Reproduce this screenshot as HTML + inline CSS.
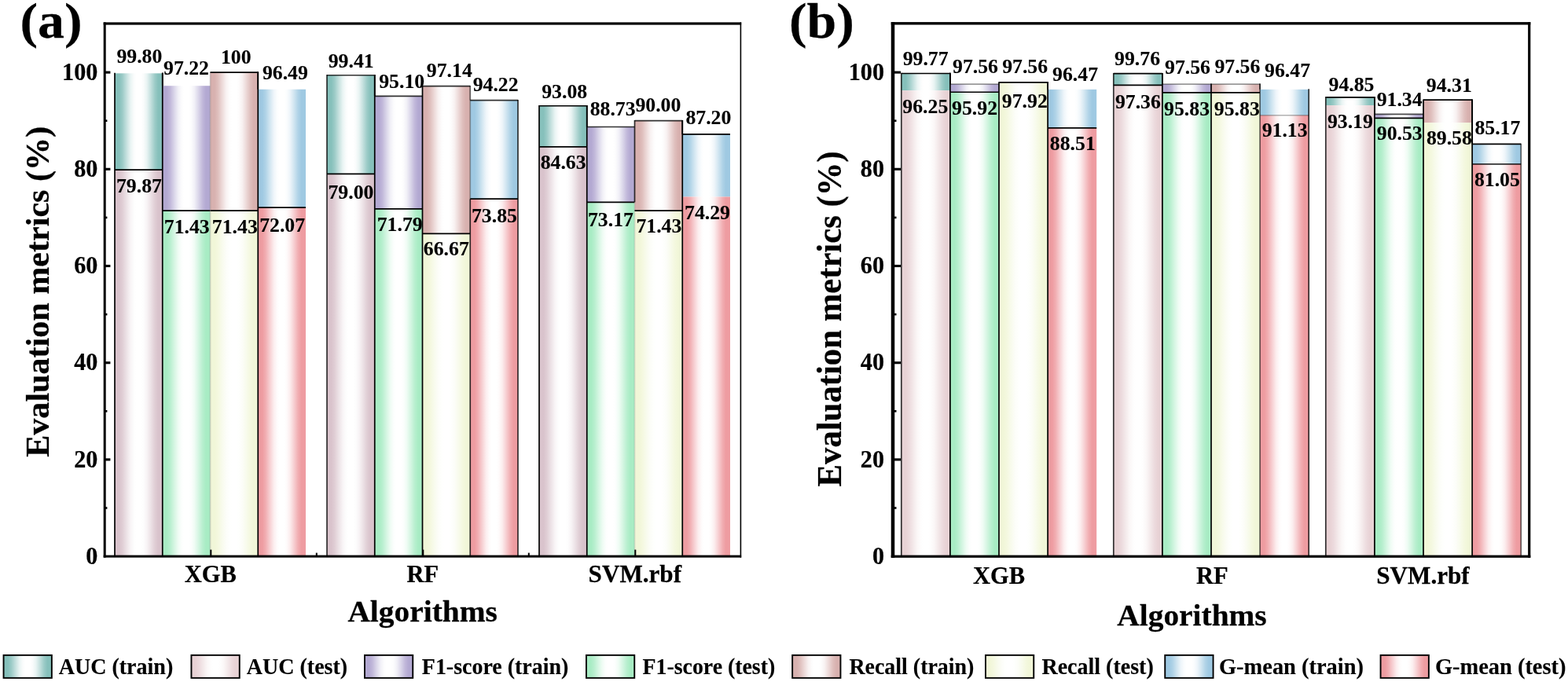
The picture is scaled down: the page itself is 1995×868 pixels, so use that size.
<!DOCTYPE html>
<html lang="en"><head><meta charset="utf-8"><title>Evaluation metrics of algorithms</title>
<style>
html,body{margin:0;padding:0;background:#fff;}
body{width:1995px;height:868px;overflow:hidden;}
svg{display:block;}
text{font-family:"Liberation Serif",serif;font-weight:bold;fill:#000;stroke:#000;stroke-width:0.25px;}
.tk{font-size:31.6px;}
.dl{font-size:25px;stroke-width:0.1px;}
.ax{font-size:37.6px;}
.ay{font-size:42.6px;}
.pl{font-size:64px;}
.lg{font-size:29.2px;stroke-width:0.15px;}
</style></head><body>
<svg width="1995" height="868" viewBox="0 0 1995 868">
<defs>
<linearGradient id="g_auc_tr" x1="0" y1="0" x2="1" y2="0"><stop offset="0.00" stop-color="#86c0bb"/><stop offset="0.09" stop-color="#86c0bb"/><stop offset="0.16" stop-color="#9ccbc7"/><stop offset="0.25" stop-color="#c6e1df"/><stop offset="0.33" stop-color="#e9f4f3"/><stop offset="0.40" stop-color="#fafcfc"/><stop offset="0.45" stop-color="#ffffff"/><stop offset="0.55" stop-color="#ffffff"/><stop offset="0.60" stop-color="#fafcfc"/><stop offset="0.67" stop-color="#e9f4f3"/><stop offset="0.75" stop-color="#c6e1df"/><stop offset="0.84" stop-color="#9ccbc7"/><stop offset="0.91" stop-color="#86c0bb"/><stop offset="1.00" stop-color="#86c0bb"/></linearGradient>
<linearGradient id="g_auc_te_a" x1="0" y1="0" x2="1" y2="0"><stop offset="0.00" stop-color="#d9c3cc"/><stop offset="0.09" stop-color="#d9c3cc"/><stop offset="0.16" stop-color="#e0ced5"/><stop offset="0.25" stop-color="#ede3e7"/><stop offset="0.33" stop-color="#f8f4f6"/><stop offset="0.40" stop-color="#fdfdfd"/><stop offset="0.45" stop-color="#ffffff"/><stop offset="0.55" stop-color="#ffffff"/><stop offset="0.60" stop-color="#fdfdfd"/><stop offset="0.67" stop-color="#f8f4f6"/><stop offset="0.75" stop-color="#ede3e7"/><stop offset="0.84" stop-color="#e0ced5"/><stop offset="0.91" stop-color="#d9c3cc"/><stop offset="1.00" stop-color="#d9c3cc"/></linearGradient>
<linearGradient id="g_auc_te_b" x1="0" y1="0" x2="1" y2="0"><stop offset="0.00" stop-color="#e8d2d5"/><stop offset="0.09" stop-color="#e8d2d5"/><stop offset="0.16" stop-color="#ecdadd"/><stop offset="0.25" stop-color="#f4eaeb"/><stop offset="0.33" stop-color="#fbf7f7"/><stop offset="0.40" stop-color="#fefdfd"/><stop offset="0.45" stop-color="#ffffff"/><stop offset="0.55" stop-color="#ffffff"/><stop offset="0.60" stop-color="#fefdfd"/><stop offset="0.67" stop-color="#fbf7f7"/><stop offset="0.75" stop-color="#f4eaeb"/><stop offset="0.84" stop-color="#ecdadd"/><stop offset="0.91" stop-color="#e8d2d5"/><stop offset="1.00" stop-color="#e8d2d5"/></linearGradient>
<linearGradient id="g_f1_tr" x1="0" y1="0" x2="1" y2="0"><stop offset="0.00" stop-color="#b3a9d2"/><stop offset="0.09" stop-color="#b3a9d2"/><stop offset="0.16" stop-color="#c1b8da"/><stop offset="0.25" stop-color="#dbd7ea"/><stop offset="0.33" stop-color="#f1f0f7"/><stop offset="0.40" stop-color="#fcfcfd"/><stop offset="0.45" stop-color="#ffffff"/><stop offset="0.55" stop-color="#ffffff"/><stop offset="0.60" stop-color="#fcfcfd"/><stop offset="0.67" stop-color="#f1f0f7"/><stop offset="0.75" stop-color="#dbd7ea"/><stop offset="0.84" stop-color="#c1b8da"/><stop offset="0.91" stop-color="#b3a9d2"/><stop offset="1.00" stop-color="#b3a9d2"/></linearGradient>
<linearGradient id="g_f1_te" x1="0" y1="0" x2="1" y2="0"><stop offset="0.00" stop-color="#a8ecc4"/><stop offset="0.09" stop-color="#a8ecc4"/><stop offset="0.16" stop-color="#b8efcf"/><stop offset="0.25" stop-color="#d6f6e3"/><stop offset="0.33" stop-color="#effcf4"/><stop offset="0.40" stop-color="#fcfefd"/><stop offset="0.45" stop-color="#ffffff"/><stop offset="0.55" stop-color="#ffffff"/><stop offset="0.60" stop-color="#fcfefd"/><stop offset="0.67" stop-color="#effcf4"/><stop offset="0.75" stop-color="#d6f6e3"/><stop offset="0.84" stop-color="#b8efcf"/><stop offset="0.91" stop-color="#a8ecc4"/><stop offset="1.00" stop-color="#a8ecc4"/></linearGradient>
<linearGradient id="g_rec_tr" x1="0" y1="0" x2="1" y2="0"><stop offset="0.00" stop-color="#d8b1af"/><stop offset="0.09" stop-color="#d8b1af"/><stop offset="0.16" stop-color="#dfbfbd"/><stop offset="0.25" stop-color="#eddad9"/><stop offset="0.33" stop-color="#f8f1f1"/><stop offset="0.40" stop-color="#fdfcfc"/><stop offset="0.45" stop-color="#ffffff"/><stop offset="0.55" stop-color="#ffffff"/><stop offset="0.60" stop-color="#fdfcfc"/><stop offset="0.67" stop-color="#f8f1f1"/><stop offset="0.75" stop-color="#eddad9"/><stop offset="0.84" stop-color="#dfbfbd"/><stop offset="0.91" stop-color="#d8b1af"/><stop offset="1.00" stop-color="#d8b1af"/></linearGradient>
<linearGradient id="g_rec_te" x1="0" y1="0" x2="1" y2="0"><stop offset="0.00" stop-color="#f1f6d8"/><stop offset="0.09" stop-color="#f1f6d8"/><stop offset="0.16" stop-color="#f4f8df"/><stop offset="0.25" stop-color="#f8fbed"/><stop offset="0.33" stop-color="#fcfdf8"/><stop offset="0.40" stop-color="#fefffd"/><stop offset="0.45" stop-color="#ffffff"/><stop offset="0.55" stop-color="#ffffff"/><stop offset="0.60" stop-color="#fefffd"/><stop offset="0.67" stop-color="#fcfdf8"/><stop offset="0.75" stop-color="#f8fbed"/><stop offset="0.84" stop-color="#f4f8df"/><stop offset="0.91" stop-color="#f1f6d8"/><stop offset="1.00" stop-color="#f1f6d8"/></linearGradient>
<linearGradient id="g_gm_tr" x1="0" y1="0" x2="1" y2="0"><stop offset="0.00" stop-color="#9fc9e2"/><stop offset="0.09" stop-color="#9fc9e2"/><stop offset="0.16" stop-color="#b0d3e7"/><stop offset="0.25" stop-color="#d2e6f1"/><stop offset="0.33" stop-color="#eef5fa"/><stop offset="0.40" stop-color="#fbfdfe"/><stop offset="0.45" stop-color="#ffffff"/><stop offset="0.55" stop-color="#ffffff"/><stop offset="0.60" stop-color="#fbfdfe"/><stop offset="0.67" stop-color="#eef5fa"/><stop offset="0.75" stop-color="#d2e6f1"/><stop offset="0.84" stop-color="#b0d3e7"/><stop offset="0.91" stop-color="#9fc9e2"/><stop offset="1.00" stop-color="#9fc9e2"/></linearGradient>
<linearGradient id="g_gm_te" x1="0" y1="0" x2="1" y2="0"><stop offset="0.00" stop-color="#ee9ca1"/><stop offset="0.09" stop-color="#ee9ca1"/><stop offset="0.16" stop-color="#f1aeb2"/><stop offset="0.25" stop-color="#f7d0d3"/><stop offset="0.33" stop-color="#fcedee"/><stop offset="0.40" stop-color="#fefbfb"/><stop offset="0.45" stop-color="#ffffff"/><stop offset="0.55" stop-color="#ffffff"/><stop offset="0.60" stop-color="#fefbfb"/><stop offset="0.67" stop-color="#fcedee"/><stop offset="0.75" stop-color="#f7d0d3"/><stop offset="0.84" stop-color="#f1aeb2"/><stop offset="0.91" stop-color="#ee9ca1"/><stop offset="1.00" stop-color="#ee9ca1"/></linearGradient>
</defs>
<rect x="0" y="0" width="1995" height="868" fill="#ffffff"/>
<g id="panel-a">
<rect x="146.00" y="93.33" width="60.75" height="122.77" fill="url(#g_auc_tr)"/>
<rect x="146.00" y="216.10" width="60.75" height="492.00" fill="url(#g_auc_te_a)"/>
<line x1="146.00" y1="216.10" x2="206.75" y2="216.10" stroke="#000" stroke-width="1.70" stroke-opacity="1.00"/>
<line x1="146.00" y1="92.63" x2="146.00" y2="708.10" stroke="#000" stroke-width="1.70" stroke-opacity="1.00"/>
<text class="dl" transform="translate(177.35,80.10) scale(1.030,1)" text-anchor="middle">99.80</text>
<text class="dl" transform="translate(176.95,244.90) scale(1.030,1)" text-anchor="middle">79.87</text>
<rect x="416.00" y="95.73" width="60.75" height="125.73" fill="url(#g_auc_tr)"/>
<rect x="416.00" y="221.46" width="60.75" height="486.64" fill="url(#g_auc_te_a)"/>
<line x1="416.00" y1="95.73" x2="476.75" y2="95.73" stroke="#000" stroke-width="1.70" stroke-opacity="0.80"/>
<line x1="416.00" y1="221.46" x2="476.75" y2="221.46" stroke="#000" stroke-width="1.70" stroke-opacity="1.00"/>
<line x1="416.00" y1="95.03" x2="416.00" y2="708.10" stroke="#000" stroke-width="1.70" stroke-opacity="0.80"/>
<text class="dl" transform="translate(446.70,86.40) scale(1.030,1)" text-anchor="middle">99.41</text>
<text class="dl" transform="translate(446.45,253.00) scale(1.030,1)" text-anchor="middle">79.00</text>
<rect x="686.00" y="134.73" width="60.75" height="52.05" fill="url(#g_auc_tr)"/>
<rect x="686.00" y="186.78" width="60.75" height="521.32" fill="url(#g_auc_te_a)"/>
<line x1="686.00" y1="134.73" x2="746.75" y2="134.73" stroke="#000" stroke-width="1.70" stroke-opacity="1.00"/>
<line x1="686.00" y1="186.78" x2="746.75" y2="186.78" stroke="#000" stroke-width="1.70" stroke-opacity="1.00"/>
<line x1="686.00" y1="134.03" x2="686.00" y2="708.10" stroke="#000" stroke-width="1.70" stroke-opacity="1.00"/>
<text class="dl" transform="translate(718.20,124.50) scale(1.030,1)" text-anchor="middle">93.08</text>
<text class="dl" transform="translate(716.60,215.10) scale(1.030,1)" text-anchor="middle">84.63</text>
<rect x="206.75" y="109.22" width="60.75" height="158.87" fill="url(#g_f1_tr)"/>
<rect x="206.75" y="268.09" width="60.75" height="440.01" fill="url(#g_f1_te)"/>
<line x1="206.75" y1="268.09" x2="267.50" y2="268.09" stroke="#000" stroke-width="1.70" stroke-opacity="1.00"/>
<line x1="206.75" y1="92.63" x2="206.75" y2="708.10" stroke="#000" stroke-width="1.70" stroke-opacity="1.00"/>
<text class="dl" transform="translate(237.00,95.30) scale(1.030,1)" text-anchor="middle">97.22</text>
<text class="dl" transform="translate(237.75,296.70) scale(1.030,1)" text-anchor="middle">71.43</text>
<rect x="476.75" y="122.28" width="60.75" height="143.59" fill="url(#g_f1_tr)"/>
<rect x="476.75" y="265.87" width="60.75" height="442.23" fill="url(#g_f1_te)"/>
<line x1="476.75" y1="122.28" x2="537.50" y2="122.28" stroke="#000" stroke-width="1.70" stroke-opacity="0.80"/>
<line x1="476.75" y1="265.87" x2="537.50" y2="265.87" stroke="#000" stroke-width="1.70" stroke-opacity="1.00"/>
<line x1="476.75" y1="95.03" x2="476.75" y2="708.10" stroke="#000" stroke-width="1.70" stroke-opacity="1.00"/>
<text class="dl" transform="translate(511.20,112.20) scale(1.030,1)" text-anchor="middle">95.10</text>
<text class="dl" transform="translate(508.70,294.00) scale(1.030,1)" text-anchor="middle">71.79</text>
<rect x="746.75" y="161.52" width="60.75" height="95.85" fill="url(#g_f1_tr)"/>
<rect x="746.75" y="257.37" width="60.75" height="450.73" fill="url(#g_f1_te)"/>
<line x1="746.75" y1="161.52" x2="807.50" y2="161.52" stroke="#000" stroke-width="1.70" stroke-opacity="0.80"/>
<line x1="746.75" y1="257.37" x2="807.50" y2="257.37" stroke="#000" stroke-width="1.70" stroke-opacity="1.00"/>
<line x1="746.75" y1="134.03" x2="746.75" y2="708.10" stroke="#000" stroke-width="1.70" stroke-opacity="1.00"/>
<text class="dl" transform="translate(779.60,147.10) scale(1.030,1)" text-anchor="middle">88.73</text>
<text class="dl" transform="translate(776.95,287.90) scale(1.030,1)" text-anchor="middle">73.17</text>
<rect x="267.50" y="92.10" width="60.75" height="175.99" fill="url(#g_rec_tr)"/>
<rect x="267.50" y="268.09" width="60.75" height="440.01" fill="url(#g_rec_te)"/>
<line x1="267.50" y1="92.10" x2="328.25" y2="92.10" stroke="#000" stroke-width="1.70" stroke-opacity="1.00"/>
<line x1="267.50" y1="268.09" x2="328.25" y2="268.09" stroke="#000" stroke-width="1.70" stroke-opacity="1.00"/>
<line x1="267.50" y1="91.40" x2="267.50" y2="708.10" stroke="#000" stroke-width="1.70" stroke-opacity="0.15"/>
<text class="dl" transform="translate(300.30,81.00) scale(1.030,1)" text-anchor="middle">100</text>
<text class="dl" transform="translate(298.80,296.70) scale(1.030,1)" text-anchor="middle">71.43</text>
<rect x="537.50" y="109.72" width="60.75" height="187.70" fill="url(#g_rec_tr)"/>
<rect x="537.50" y="297.41" width="60.75" height="410.69" fill="url(#g_rec_te)"/>
<line x1="537.50" y1="109.72" x2="598.25" y2="109.72" stroke="#000" stroke-width="1.70" stroke-opacity="0.80"/>
<line x1="537.50" y1="297.41" x2="598.25" y2="297.41" stroke="#000" stroke-width="1.70" stroke-opacity="1.00"/>
<line x1="537.50" y1="109.02" x2="537.50" y2="708.10" stroke="#000" stroke-width="1.70" stroke-opacity="1.00"/>
<text class="dl" transform="translate(571.80,98.30) scale(1.030,1)" text-anchor="middle">97.14</text>
<text class="dl" transform="translate(567.80,325.10) scale(1.030,1)" text-anchor="middle">66.67</text>
<rect x="807.50" y="153.70" width="60.75" height="114.39" fill="url(#g_rec_tr)"/>
<rect x="807.50" y="268.09" width="60.75" height="440.01" fill="url(#g_rec_te)"/>
<line x1="807.50" y1="153.70" x2="868.25" y2="153.70" stroke="#000" stroke-width="1.70" stroke-opacity="0.80"/>
<line x1="807.50" y1="268.09" x2="868.25" y2="268.09" stroke="#000" stroke-width="1.70" stroke-opacity="1.00"/>
<line x1="807.50" y1="257.37" x2="807.50" y2="708.10" stroke="#000" stroke-width="1.70" stroke-opacity="0.12"/>
<line x1="807.50" y1="153.00" x2="807.50" y2="257.37" stroke="#000" stroke-width="1.70" stroke-opacity="0.80"/>
<text class="dl" transform="translate(837.40,142.00) scale(1.030,1)" text-anchor="middle">90.00</text>
<text class="dl" transform="translate(838.35,296.20) scale(1.030,1)" text-anchor="middle">71.43</text>
<rect x="328.25" y="113.72" width="60.75" height="150.43" fill="url(#g_gm_tr)"/>
<rect x="328.25" y="264.15" width="60.75" height="443.95" fill="url(#g_gm_te)"/>
<line x1="328.25" y1="264.15" x2="389.00" y2="264.15" stroke="#000" stroke-width="1.70" stroke-opacity="1.00"/>
<line x1="328.25" y1="91.40" x2="328.25" y2="708.10" stroke="#000" stroke-width="1.70" stroke-opacity="1.00"/>
<text class="dl" transform="translate(362.85,100.50) scale(1.030,1)" text-anchor="middle">96.49</text>
<text class="dl" transform="translate(359.10,295.10) scale(1.030,1)" text-anchor="middle">72.07</text>
<rect x="598.25" y="127.70" width="60.75" height="125.48" fill="url(#g_gm_tr)"/>
<rect x="598.25" y="253.18" width="60.75" height="454.92" fill="url(#g_gm_te)"/>
<line x1="598.25" y1="127.70" x2="659.00" y2="127.70" stroke="#000" stroke-width="1.70" stroke-opacity="0.80"/>
<line x1="598.25" y1="253.18" x2="659.00" y2="253.18" stroke="#000" stroke-width="1.70" stroke-opacity="1.00"/>
<line x1="598.25" y1="253.18" x2="598.25" y2="708.10" stroke="#000" stroke-width="1.70" stroke-opacity="0.80"/>
<line x1="598.25" y1="109.02" x2="598.25" y2="253.18" stroke="#000" stroke-width="1.70" stroke-opacity="0.35"/>
<line x1="659.00" y1="127.00" x2="659.00" y2="708.10" stroke="#000" stroke-width="1.70" stroke-opacity="0.80"/>
<text class="dl" transform="translate(630.60,116.30) scale(1.030,1)" text-anchor="middle">94.22</text>
<text class="dl" transform="translate(628.95,282.50) scale(1.030,1)" text-anchor="middle">73.85</text>
<rect x="868.25" y="170.95" width="60.75" height="79.53" fill="url(#g_gm_tr)"/>
<rect x="868.25" y="250.47" width="60.75" height="457.63" fill="url(#g_gm_te)"/>
<line x1="868.25" y1="170.95" x2="929.00" y2="170.95" stroke="#000" stroke-width="1.70" stroke-opacity="1.00"/>
<line x1="868.25" y1="153.00" x2="868.25" y2="708.10" stroke="#000" stroke-width="1.70" stroke-opacity="1.00"/>
<text class="dl" transform="translate(901.40,157.50) scale(1.030,1)" text-anchor="middle">87.20</text>
<text class="dl" transform="translate(900.00,279.40) scale(1.030,1)" text-anchor="middle">74.29</text>
<line x1="206.75" y1="92.63" x2="206.75" y2="109.22" stroke="#000" stroke-width="1.70" stroke-opacity="1.00"/>
<line x1="328.25" y1="91.40" x2="328.25" y2="113.72" stroke="#000" stroke-width="1.70" stroke-opacity="1.00"/>
<line x1="476.75" y1="95.03" x2="476.75" y2="122.28" stroke="#000" stroke-width="1.70" stroke-opacity="1.00"/>
<line x1="598.25" y1="109.02" x2="598.25" y2="127.70" stroke="#000" stroke-width="1.70" stroke-opacity="0.35"/>
<line x1="746.75" y1="134.03" x2="746.75" y2="161.52" stroke="#000" stroke-width="1.70" stroke-opacity="1.00"/>
<line x1="868.25" y1="153.00" x2="868.25" y2="170.95" stroke="#000" stroke-width="1.70" stroke-opacity="1.00"/>
<rect x="131.70" y="28.40" width="3.00" height="681.20" fill="#000"/>
<rect x="941.60" y="28.40" width="1.60" height="681.20" fill="#000"/>
<rect x="131.70" y="28.40" width="811.50" height="3.20" fill="#000"/>
<rect x="131.70" y="706.60" width="811.50" height="3.00" fill="#000"/>
<text class="tk" transform="translate(124.3,717.7) scale(0.955,1)" text-anchor="end">0</text>
<rect x="133.20" y="645.20" width="3.20" height="2.6" fill="#000"/>
<rect x="133.20" y="583.35" width="7.20" height="3.1" fill="#000"/>
<text class="tk" transform="translate(124.3,594.5) scale(0.955,1)" text-anchor="end">20</text>
<rect x="133.20" y="522.00" width="3.20" height="2.6" fill="#000"/>
<rect x="133.20" y="460.15" width="7.20" height="3.1" fill="#000"/>
<text class="tk" transform="translate(124.3,471.3) scale(0.955,1)" text-anchor="end">40</text>
<rect x="133.20" y="398.80" width="3.20" height="2.6" fill="#000"/>
<rect x="133.20" y="336.95" width="7.20" height="3.1" fill="#000"/>
<text class="tk" transform="translate(124.3,348.1) scale(0.955,1)" text-anchor="end">60</text>
<rect x="133.20" y="275.60" width="3.20" height="2.6" fill="#000"/>
<rect x="133.20" y="213.75" width="7.20" height="3.1" fill="#000"/>
<text class="tk" transform="translate(124.3,224.9) scale(0.955,1)" text-anchor="end">80</text>
<rect x="133.20" y="152.40" width="3.20" height="2.6" fill="#000"/>
<rect x="133.20" y="90.55" width="7.20" height="3.1" fill="#000"/>
<text class="tk" transform="translate(124.3,101.7) scale(0.955,1)" text-anchor="end">100</text>
<rect x="267.30" y="699.60" width="2" height="8.50" fill="#000"/>
<rect x="401.80" y="703.60" width="2" height="4.50" fill="#000"/>
<text class="tk" transform="translate(267.8,741.4) scale(0.965,1)" text-anchor="middle">XGB</text>
<rect x="537.30" y="699.60" width="2" height="8.50" fill="#000"/>
<rect x="671.80" y="703.60" width="2" height="4.50" fill="#000"/>
<text class="tk" transform="translate(537.8,741.4) scale(0.965,1)" text-anchor="middle">RF</text>
<rect x="807.30" y="699.60" width="2" height="8.50" fill="#000"/>
<text class="tk" transform="translate(807.8,741.4) scale(0.985,1)" text-anchor="middle">SVM.rbf</text>
<text class="ax" transform="translate(537.6,791.3) scale(1.048,1)" text-anchor="middle">Algorithms</text>
<text class="ay" style="font-size:42.2px" transform="translate(61.8,371.3) rotate(-90) scale(0.998,1)" text-anchor="middle">Evaluation metrics (%)</text>
<text class="pl" transform="translate(25.4,48.4) scale(1.06,1)">(a)</text>
</g>
<g id="panel-b">
<rect x="1146.80" y="93.52" width="62.10" height="21.68" fill="url(#g_auc_tr)"/>
<rect x="1146.80" y="115.20" width="62.10" height="592.90" fill="url(#g_auc_te_b)"/>
<line x1="1146.80" y1="93.52" x2="1208.90" y2="93.52" stroke="#000" stroke-width="1.70" stroke-opacity="1.00"/>
<line x1="1146.80" y1="92.82" x2="1146.80" y2="708.10" stroke="#000" stroke-width="1.70" stroke-opacity="0.80"/>
<text class="dl" transform="translate(1177.65,83.40) scale(1.030,1)" text-anchor="middle">99.77</text>
<text class="dl" transform="translate(1177.30,144.00) scale(1.030,1)" text-anchor="middle">96.25</text>
<rect x="1416.80" y="93.58" width="62.10" height="14.78" fill="url(#g_auc_tr)"/>
<rect x="1416.80" y="108.36" width="62.10" height="599.74" fill="url(#g_auc_te_b)"/>
<line x1="1416.80" y1="93.58" x2="1478.90" y2="93.58" stroke="#000" stroke-width="1.70" stroke-opacity="1.00"/>
<line x1="1416.80" y1="108.36" x2="1478.90" y2="108.36" stroke="#000" stroke-width="1.70" stroke-opacity="1.00"/>
<line x1="1416.80" y1="92.88" x2="1416.80" y2="708.10" stroke="#000" stroke-width="1.70" stroke-opacity="0.80"/>
<text class="dl" transform="translate(1447.05,82.90) scale(1.030,1)" text-anchor="middle">99.76</text>
<text class="dl" transform="translate(1447.85,138.20) scale(1.030,1)" text-anchor="middle">97.36</text>
<rect x="1686.80" y="123.82" width="62.10" height="10.23" fill="url(#g_auc_tr)"/>
<rect x="1686.80" y="134.05" width="62.10" height="574.05" fill="url(#g_auc_te_b)"/>
<line x1="1686.80" y1="123.82" x2="1748.90" y2="123.82" stroke="#000" stroke-width="1.70" stroke-opacity="1.00"/>
<line x1="1686.80" y1="123.12" x2="1686.80" y2="708.10" stroke="#000" stroke-width="1.70" stroke-opacity="0.80"/>
<text class="dl" transform="translate(1719.50,115.60) scale(1.030,1)" text-anchor="middle">94.85</text>
<text class="dl" transform="translate(1717.85,162.80) scale(1.030,1)" text-anchor="middle">93.19</text>
<rect x="1208.90" y="107.13" width="62.10" height="10.10" fill="url(#g_f1_tr)"/>
<rect x="1208.90" y="117.23" width="62.10" height="590.87" fill="url(#g_f1_te)"/>
<line x1="1208.90" y1="107.13" x2="1271.00" y2="107.13" stroke="#000" stroke-width="1.70" stroke-opacity="0.40"/>
<line x1="1208.90" y1="117.23" x2="1271.00" y2="117.23" stroke="#000" stroke-width="1.70" stroke-opacity="1.00"/>
<line x1="1208.90" y1="92.82" x2="1208.90" y2="708.10" stroke="#000" stroke-width="1.70" stroke-opacity="1.00"/>
<text class="dl" transform="translate(1241.00,93.30) scale(1.030,1)" text-anchor="middle">97.56</text>
<text class="dl" transform="translate(1240.05,146.30) scale(1.030,1)" text-anchor="middle">95.92</text>
<rect x="1478.90" y="107.13" width="62.10" height="10.66" fill="url(#g_f1_tr)"/>
<rect x="1478.90" y="117.79" width="62.10" height="590.31" fill="url(#g_f1_te)"/>
<line x1="1478.90" y1="107.13" x2="1541.00" y2="107.13" stroke="#000" stroke-width="1.70" stroke-opacity="0.40"/>
<line x1="1478.90" y1="117.79" x2="1541.00" y2="117.79" stroke="#000" stroke-width="1.70" stroke-opacity="1.00"/>
<line x1="1478.90" y1="92.88" x2="1478.90" y2="708.10" stroke="#000" stroke-width="1.70" stroke-opacity="1.00"/>
<text class="dl" transform="translate(1511.00,94.40) scale(1.030,1)" text-anchor="middle">97.56</text>
<text class="dl" transform="translate(1510.05,147.40) scale(1.030,1)" text-anchor="middle">95.83</text>
<rect x="1748.90" y="145.45" width="62.10" height="4.99" fill="url(#g_f1_tr)"/>
<rect x="1748.90" y="150.44" width="62.10" height="557.66" fill="url(#g_f1_te)"/>
<line x1="1748.90" y1="145.45" x2="1811.00" y2="145.45" stroke="#000" stroke-width="1.70" stroke-opacity="0.70"/>
<line x1="1748.90" y1="150.44" x2="1811.00" y2="150.44" stroke="#000" stroke-width="1.70" stroke-opacity="1.00"/>
<line x1="1748.90" y1="123.12" x2="1748.90" y2="708.10" stroke="#000" stroke-width="1.70" stroke-opacity="1.00"/>
<text class="dl" transform="translate(1780.65,134.50) scale(1.030,1)" text-anchor="middle">91.34</text>
<text class="dl" transform="translate(1780.75,177.80) scale(1.030,1)" text-anchor="middle">90.53</text>
<rect x="1271.00" y="104.91" width="62.10" height="603.19" fill="url(#g_rec_te)"/>
<line x1="1271.00" y1="104.91" x2="1333.10" y2="104.91" stroke="#000" stroke-width="1.70" stroke-opacity="1.00"/>
<line x1="1271.00" y1="104.21" x2="1271.00" y2="708.10" stroke="#000" stroke-width="1.70" stroke-opacity="1.00"/>
<text class="dl" transform="translate(1304.15,93.30) scale(1.030,1)" text-anchor="middle">97.56</text>
<text class="dl" transform="translate(1303.80,136.60) scale(1.030,1)" text-anchor="middle">97.92</text>
<rect x="1541.00" y="107.13" width="62.10" height="10.66" fill="url(#g_rec_tr)"/>
<rect x="1541.00" y="117.79" width="62.10" height="590.31" fill="url(#g_rec_te)"/>
<line x1="1541.00" y1="107.13" x2="1603.10" y2="107.13" stroke="#000" stroke-width="1.70" stroke-opacity="0.40"/>
<line x1="1541.00" y1="117.79" x2="1603.10" y2="117.79" stroke="#000" stroke-width="1.70" stroke-opacity="1.00"/>
<line x1="1541.00" y1="106.43" x2="1541.00" y2="708.10" stroke="#000" stroke-width="1.70" stroke-opacity="1.00"/>
<text class="dl" transform="translate(1574.40,92.80) scale(1.030,1)" text-anchor="middle">97.56</text>
<text class="dl" transform="translate(1573.80,147.40) scale(1.030,1)" text-anchor="middle">95.83</text>
<rect x="1811.00" y="127.15" width="62.10" height="29.14" fill="url(#g_rec_tr)"/>
<rect x="1811.00" y="156.29" width="62.10" height="551.81" fill="url(#g_rec_te)"/>
<line x1="1811.00" y1="127.15" x2="1873.10" y2="127.15" stroke="#000" stroke-width="1.70" stroke-opacity="1.00"/>
<line x1="1811.00" y1="126.45" x2="1811.00" y2="708.10" stroke="#000" stroke-width="1.70" stroke-opacity="1.00"/>
<text class="dl" transform="translate(1843.80,116.70) scale(1.030,1)" text-anchor="middle">94.31</text>
<text class="dl" transform="translate(1843.90,184.00) scale(1.030,1)" text-anchor="middle">89.58</text>
<rect x="1333.10" y="113.84" width="62.10" height="49.03" fill="url(#g_gm_tr)"/>
<rect x="1333.10" y="162.88" width="62.10" height="545.22" fill="url(#g_gm_te)"/>
<line x1="1333.10" y1="162.88" x2="1395.20" y2="162.88" stroke="#000" stroke-width="1.70" stroke-opacity="1.00"/>
<line x1="1333.10" y1="104.21" x2="1333.10" y2="708.10" stroke="#000" stroke-width="1.70" stroke-opacity="1.00"/>
<text class="dl" transform="translate(1368.05,103.00) scale(1.030,1)" text-anchor="middle">96.47</text>
<text class="dl" transform="translate(1364.80,190.50) scale(1.030,1)" text-anchor="middle">88.51</text>
<rect x="1603.10" y="113.84" width="62.10" height="32.89" fill="url(#g_gm_tr)"/>
<rect x="1603.10" y="146.74" width="62.10" height="561.36" fill="url(#g_gm_te)"/>
<line x1="1603.10" y1="146.74" x2="1665.20" y2="146.74" stroke="#000" stroke-width="1.70" stroke-opacity="0.30"/>
<line x1="1603.10" y1="106.43" x2="1603.10" y2="708.10" stroke="#000" stroke-width="1.70" stroke-opacity="0.60"/>
<line x1="1665.20" y1="113.14" x2="1665.20" y2="708.10" stroke="#000" stroke-width="1.70" stroke-opacity="0.80"/>
<text class="dl" transform="translate(1638.05,98.30) scale(1.030,1)" text-anchor="middle">96.47</text>
<text class="dl" transform="translate(1634.60,173.90) scale(1.030,1)" text-anchor="middle">91.13</text>
<rect x="1873.10" y="183.45" width="62.10" height="25.38" fill="url(#g_gm_tr)"/>
<rect x="1873.10" y="208.83" width="62.10" height="499.27" fill="url(#g_gm_te)"/>
<line x1="1873.10" y1="183.45" x2="1935.20" y2="183.45" stroke="#000" stroke-width="1.70" stroke-opacity="1.00"/>
<line x1="1873.10" y1="208.83" x2="1935.20" y2="208.83" stroke="#000" stroke-width="1.70" stroke-opacity="0.80"/>
<line x1="1873.10" y1="126.45" x2="1873.10" y2="708.10" stroke="#000" stroke-width="1.70" stroke-opacity="1.00"/>
<line x1="1935.20" y1="182.75" x2="1935.20" y2="708.10" stroke="#000" stroke-width="1.70" stroke-opacity="0.60"/>
<text class="dl" transform="translate(1905.40,170.90) scale(1.030,1)" text-anchor="middle">85.17</text>
<text class="dl" transform="translate(1904.85,237.20) scale(1.030,1)" text-anchor="middle">81.05</text>
<line x1="1208.90" y1="92.82" x2="1208.90" y2="107.13" stroke="#000" stroke-width="1.70" stroke-opacity="1.00"/>
<line x1="1333.10" y1="104.21" x2="1333.10" y2="113.84" stroke="#000" stroke-width="1.70" stroke-opacity="1.00"/>
<line x1="1478.90" y1="92.88" x2="1478.90" y2="107.13" stroke="#000" stroke-width="1.70" stroke-opacity="1.00"/>
<line x1="1603.10" y1="106.43" x2="1603.10" y2="113.84" stroke="#000" stroke-width="1.70" stroke-opacity="0.60"/>
<line x1="1748.90" y1="123.12" x2="1748.90" y2="145.45" stroke="#000" stroke-width="1.70" stroke-opacity="1.00"/>
<line x1="1873.10" y1="126.45" x2="1873.10" y2="183.45" stroke="#000" stroke-width="1.70" stroke-opacity="1.00"/>
<rect x="1133.75" y="28.10" width="4.50" height="681.70" fill="#000"/>
<rect x="1944.10" y="28.10" width="3.20" height="681.70" fill="#000"/>
<rect x="1133.75" y="28.10" width="813.55" height="3.40" fill="#000"/>
<rect x="1133.75" y="706.60" width="813.55" height="3.20" fill="#000"/>
<text class="tk" transform="translate(1125.0,717.7) scale(0.955,1)" text-anchor="end">0</text>
<rect x="1136.00" y="645.20" width="4.50" height="2.6" fill="#000"/>
<rect x="1136.00" y="583.35" width="10.00" height="3.1" fill="#000"/>
<text class="tk" transform="translate(1125.0,594.5) scale(0.955,1)" text-anchor="end">20</text>
<rect x="1136.00" y="522.00" width="4.50" height="2.6" fill="#000"/>
<rect x="1136.00" y="460.15" width="10.00" height="3.1" fill="#000"/>
<text class="tk" transform="translate(1125.0,471.3) scale(0.955,1)" text-anchor="end">40</text>
<rect x="1136.00" y="398.80" width="4.50" height="2.6" fill="#000"/>
<rect x="1136.00" y="336.95" width="10.00" height="3.1" fill="#000"/>
<text class="tk" transform="translate(1125.0,348.1) scale(0.955,1)" text-anchor="end">60</text>
<rect x="1136.00" y="275.60" width="4.50" height="2.6" fill="#000"/>
<rect x="1136.00" y="213.75" width="10.00" height="3.1" fill="#000"/>
<text class="tk" transform="translate(1125.0,224.9) scale(0.955,1)" text-anchor="end">80</text>
<rect x="1136.00" y="152.40" width="4.50" height="2.6" fill="#000"/>
<rect x="1136.00" y="90.55" width="10.00" height="3.1" fill="#000"/>
<text class="tk" transform="translate(1125.0,101.7) scale(0.955,1)" text-anchor="end">100</text>
<text class="tk" transform="translate(1271.0,743.3) scale(0.965,1)" text-anchor="middle">XGB</text>
<text class="tk" transform="translate(1542.3,743.3) scale(0.965,1)" text-anchor="middle">RF</text>
<text class="tk" transform="translate(1810.5,743.3) scale(0.985,1)" text-anchor="middle">SVM.rbf</text>
<text class="ax" transform="translate(1516.5,796.1) scale(1.048,1)" text-anchor="middle">Algorithms</text>
<text class="ay" style="font-size:43.3px" transform="translate(1070.0,405.9) rotate(-90) scale(0.987,1)" text-anchor="middle">Evaluation metrics (%)</text>
<text class="pl" transform="translate(1004.0,48.4) scale(1.06,1)">(b)</text>
</g>
<g id="legend">
<rect x="4.55" y="833.85" width="61.30" height="29.00" fill="url(#g_auc_tr)" stroke="#000" stroke-width="1.9"/>
<text class="lg" transform="translate(74.7,857.6) scale(0.960,1)">AUC (train)</text>
<rect x="243.45" y="833.85" width="61.30" height="29.00" fill="url(#g_auc_te_b)" stroke="#000" stroke-width="1.9"/>
<text class="lg" transform="translate(313.8,857.6) scale(0.960,1)">AUC (test)</text>
<rect x="463.95" y="833.85" width="61.30" height="29.00" fill="url(#g_f1_tr)" stroke="#000" stroke-width="1.9"/>
<text class="lg" transform="translate(536.8,857.6) scale(0.958,1)">F1-score (train)</text>
<rect x="745.95" y="833.85" width="61.30" height="29.00" fill="url(#g_f1_te)" stroke="#000" stroke-width="1.9"/>
<text class="lg" transform="translate(817.5,857.6) scale(0.954,1)">F1-score (test)</text>
<rect x="1008.15" y="833.85" width="61.30" height="29.00" fill="url(#g_rec_tr)" stroke="#000" stroke-width="1.9"/>
<text class="lg" transform="translate(1080.4,857.6) scale(0.957,1)">Recall (train)</text>
<rect x="1253.95" y="833.85" width="61.30" height="29.00" fill="url(#g_rec_te)" stroke="#000" stroke-width="1.9"/>
<text class="lg" transform="translate(1325.4,857.6) scale(0.960,1)">Recall (test)</text>
<rect x="1482.25" y="833.85" width="61.30" height="29.00" fill="url(#g_gm_tr)" stroke="#000" stroke-width="1.9"/>
<text class="lg" transform="translate(1551.0,857.6) scale(0.974,1)">G-mean (train)</text>
<rect x="1756.55" y="833.85" width="61.30" height="29.00" fill="url(#g_gm_te)" stroke="#000" stroke-width="1.9"/>
<text class="lg" transform="translate(1825.9,857.6) scale(0.974,1)">G-mean (test)</text>
</g>
</svg>
</body></html>
